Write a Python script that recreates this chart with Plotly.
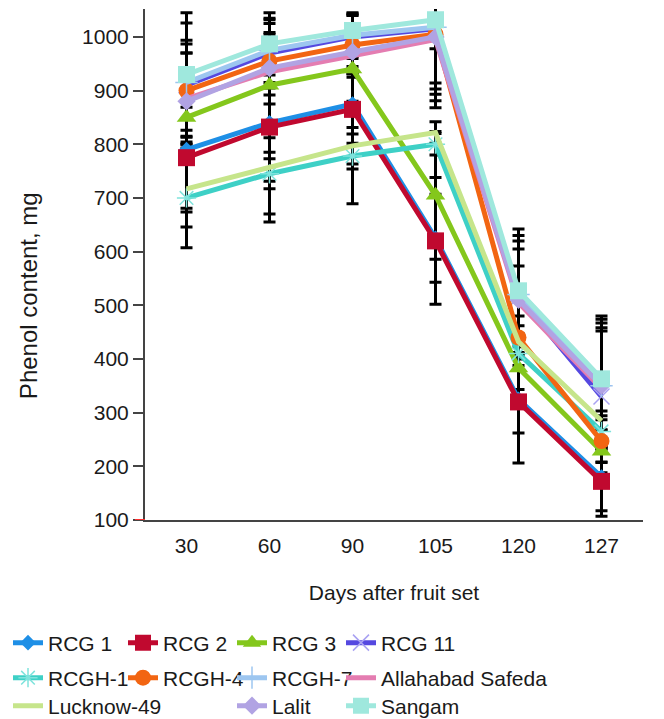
import plotly.graph_objects as go

days = ["30", "60", "90", "105", "120", "127"]

rcg1 = [790, 840, 875, 625, 325, 180]
rcg2 = [775, 832, 865, 620, 320, 172]
rcg3 = [850, 910, 940, 705, 383, 228]
rcg11 = [910, 970, 1000, 1015, 515, 330]
rcgh1 = [700, 745, 778, 800, 410, 265]
rcgh4 = [900, 955, 985, 1005, 440, 247]
rcgh7 = [915, 975, 1003, 1018, 520, 350]
allahabad = [885, 935, 965, 995, 505, 345]
lucknow49 = [717, 758, 797, 822, 432, 285]
lalit = [880, 942, 972, 1000, 510, 350]
sangam = [930, 987, 1012, 1032, 527, 363]

err_rcg1 = [116, 185, 56, 82, 63, 63]
err_rcg2 = [94, 162, 176, 118, 114, 65]
err_rcg3 = [50, 98, 60, 119, 40, 40]
err_rcg11 = [84, 62, 40, 122, 105, 122]
err_rcgh1 = [93, 28, 24, 20, 30, 29]
err_rcgh4 = [87, 50, 40, 102, 40, 40]
err_rcgh7 = [111, 60, 40, 137, 110, 124]
err_allahabad = [85, 60, 40, 81, 100, 113]
err_lucknow49 = [71, 27, 34, 20, 30, 18]
err_lalit = [90, 50, 40, 22, 63, 117]
err_sangam = [115, 58, 33, 164, 115, 117]

# (name, values, errors, line colour, marker, legend row, legend column)
series = [
    ("RCG 1", rcg1, err_rcg1, "#1E8FE6", dict(symbol="diamond", size=12, color="#1E8FE6"), 0, 0),
    ("RCG 2", rcg2, err_rcg2, "#C0092F", dict(symbol="square", size=17, color="#C0092F"), 0, 1),
    ("RCG 3", rcg3, err_rcg3, "#84C71C", dict(symbol="triangle-up", size=17, color="#84C71C"), 0, 2),
    ("RCG 11", rcg11, err_rcg11, "#5548E0", dict(symbol="x-thin", size=16, color="#A9A2F2", line=dict(width=1.5, color="#A9A2F2")), 0, 3),
    ("RCGH-1", rcgh1, err_rcgh1, "#3ED0C6", dict(symbol="asterisk", size=16, color="#7FE3DC", line=dict(width=1.5, color="#7FE3DC")), 1, 0),
    ("RCGH-4", rcgh4, err_rcgh4, "#F26512", dict(symbol="circle", size=16, color="#F26512"), 1, 1),
    ("RCGH-7", rcgh7, err_rcgh7, "#9DC6F0", dict(symbol="cross-thin", size=16, color="#9DC6F0", line=dict(width=1.5, color="#9DC6F0")), 1, 2),
    ("Allahabad Safeda", allahabad, err_allahabad, "#E47DB1", None, 1, 3),
    ("Lucknow-49", lucknow49, err_lucknow49, "#C6E58B", None, 2, 0),
    ("Lalit", lalit, err_lalit, "#B1A3E3", dict(symbol="diamond", size=14, color="#B1A3E3"), 2, 2),
    ("Sangam", sangam, err_sangam, "#9FE8DD", dict(symbol="square", size=17, color="#9FE8DD"), 2, 3),
]

fig = go.Figure()

# error bars first (drawn beneath the series)
for name, vals, errs, col, mk, r, c in series:
    fig.add_trace(go.Scatter(
        x=days, y=vals, mode="markers",
        marker=dict(size=1, color="rgba(0,0,0,0)"),
        error_y=dict(type="data", array=errs, visible=True, color="black", thickness=3, width=6),
        showlegend=False, hoverinfo="skip",
    ))

FAM = "Liberation Sans, Arial, sans-serif"
font = dict(family=FAM, size=21, color="#1a1a1a")

W, H = 656, 711          # page body has an 8px margin
row_y = [635, 670, 698]          # legend row centres (px from top of figure)
col_x = [0, 115, 224, 333]       # legend column left edges (px)

legends = {}
for i, (name, vals, errs, col, mk, r, c) in enumerate(series):
    lid = "legend" if i == 0 else f"legend{i + 1}"
    kw = dict(x=days, y=vals, name=name, line=dict(color=col, width=5), legend=lid)
    if mk is None:
        fig.add_trace(go.Scatter(mode="lines", **kw))
    else:
        fig.add_trace(go.Scatter(mode="lines+markers", marker=mk, **kw))
    legends[lid] = dict(orientation="h", xref="container", yref="container",
                        xanchor="left", yanchor="middle",
                        x=col_x[c] / W, y=1 - row_y[r] / H,
                        font=font, bgcolor="rgba(0,0,0,0)")

fig.update_layout(
    width=W, height=H,
    margin=dict(l=137, r=21, t=1, b=199),
    paper_bgcolor="white", plot_bgcolor="white",
    font=font,
    xaxis=dict(type="category", range=[-0.5, 5.5], showline=True, linecolor="#444", linewidth=2,
               ticks="", showgrid=False, zeroline=False, ticklabelstandoff=6,
               tickfont=font,
               title=dict(text="Days after fruit set", font=font, standoff=29)),
    yaxis=dict(range=[100, 1052], tickvals=list(range(100, 1001, 100)), showline=True,
               linecolor="#444", linewidth=2, ticks="outside", ticklen=10, tickcolor="#444",
               tickwidth=2, showgrid=False, zeroline=False,
               tickfont=font),
    annotations=[dict(text="Phenol content, mg", textangle=-90, xref="paper", yref="paper",
                      x=-0.235, y=0.44, xanchor="center", yanchor="middle", showarrow=False,
                      font=dict(family=FAM, size=24, color="#1a1a1a"))],
    shapes=[dict(type="line", xref="paper", yref="y", x0=-0.02, x1=0, y0=100, y1=100,
                 line=dict(color="#ff3030", width=2))],
    **legends,
)

fig.write_html("out.html")
